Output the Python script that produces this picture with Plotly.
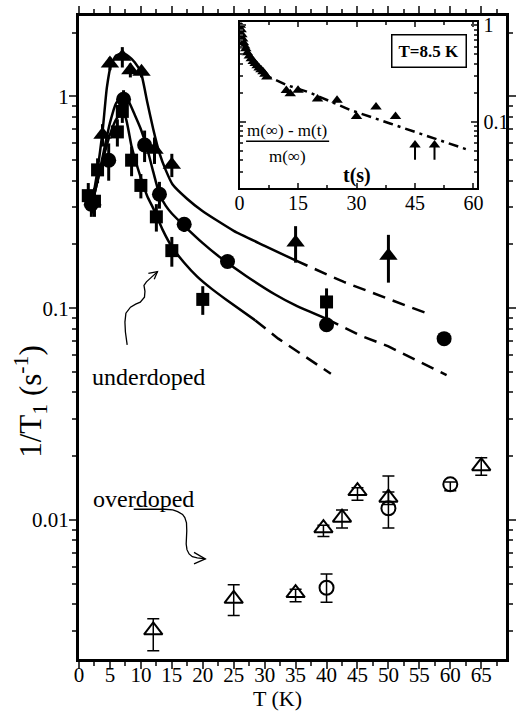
import plotly.graph_objects as go

# ---------------- data ----------------
# underdoped, filled symbols
tri_T = [2.2, 3.8, 5.0, 7.0, 8.3, 10.1, 12.2, 15.0, 35.0, 50.0]
tri_v = [0.32, 0.66, 1.43, 1.54, 1.33, 1.31, 0.56, 0.476, 0.204, 0.177]
tri_e = [0.04, 0.08, 0.10, 0.17, 0.10, 0.08, 0.08, 0.06, 0.040, 0.045]

cir_T = [2.0, 4.8, 7.2, 10.6, 13.0, 17.0, 24.0, 40.0, 59.0]
cir_v = [0.31, 0.50, 0.97, 0.59, 0.345, 0.249, 0.166, 0.0835, 0.0718]
cir_e = [0.04, 0.10, 0.10, 0.10, 0.05, 0.02, 0.01, 0.005, 0.004]

sq_T = [1.5, 2.5, 3.0, 6.2, 7.0, 8.5, 10.0, 12.5, 15.0, 20.0, 40.0]
sq_v = [0.34, 0.32, 0.45, 0.68, 0.85, 0.50, 0.38, 0.27, 0.187, 0.11, 0.107]
sq_e = [0.05, 0.05, 0.06, 0.10, 0.10, 0.08, 0.05, 0.04, 0.03, 0.017, 0.017]

# fit curves (solid part, dashed extension)
fitA_T = [2.0, 3.0, 3.8, 4.5, 5.2, 6.0, 7.0, 8.0, 9.0, 10.0, 11.0, 12.0, 13.0, 14.0, 15.1, 17.5, 20.0, 25.0, 30.0, 35.0]
fitA_v = [0.30, 0.45, 0.68, 1.10, 1.42, 1.56, 1.60, 1.55, 1.45, 1.30, 0.95, 0.70, 0.54, 0.45, 0.385, 0.328, 0.287, 0.232, 0.197, 0.168]
fitA_dT = [35.0, 42.8, 52.8, 56.5]
fitA_dv = [0.168, 0.133, 0.103, 0.094]

fitB_T = [2.0, 3.0, 4.0, 5.0, 6.0, 7.0, 8.0, 9.0, 10.0, 11.0, 12.0, 13.0, 14.0, 15.0, 17.0, 20.0, 23.0, 27.0, 31.7, 35.0, 40.0]
fitB_v = [0.30, 0.40, 0.55, 0.75, 0.93, 1.00, 0.95, 0.82, 0.70, 0.57, 0.44, 0.345, 0.305, 0.28, 0.245, 0.203, 0.172, 0.142, 0.116, 0.103, 0.089]
fitB_dT = [40.0, 45.4, 50.0, 59.4]
fitB_dv = [0.089, 0.0744, 0.066, 0.0483]

fitC_T = [2.0, 3.0, 4.0, 5.0, 6.0, 6.8, 7.5, 8.5, 9.9, 11.0, 12.2, 13.5, 15.1, 17.0, 19.1, 21.5, 23.8, 28.5]
fitC_v = [0.30, 0.40, 0.52, 0.66, 0.78, 0.83, 0.80, 0.58, 0.42, 0.34, 0.288, 0.235, 0.193, 0.164, 0.141, 0.123, 0.1096, 0.0875]
fitC_dT = [28.5, 32.2, 40.7]
fitC_dv = [0.0875, 0.0718, 0.049]

# overdoped, open symbols
otri_T = [12, 25, 35, 39.5, 42.5, 45, 50, 65]
otri_v = [0.00301, 0.00424, 0.00451, 0.00914, 0.01025, 0.01368, 0.01273, 0.01794]
otri_ep = [0.0004, 0.0007, 0.0002, 0.0003, 0.0009, 0.0005, 0.0034, 0.0017]
otri_em = [0.0006, 0.0007, 0.0004, 0.0008, 0.0011, 0.0013, 0.0009, 0.0017]

ocir_T = [40, 50, 60]
ocir_v = [0.00478, 0.01135, 0.01472]
ocir_ep = [0.00077, 0.0022, 0.0004]
ocir_em = [0.0007, 0.0022, 0.0010]

# inset: relaxation at T = 8.5 K
ins_t = [0.2, 0.4, 0.6, 0.8, 1.0, 1.3, 1.6, 2.0, 2.5, 3.0, 3.5, 4.0, 4.5, 5.0, 5.5, 6.0, 6.5, 7.0,
         12, 13, 15, 20, 25, 30, 35, 40, 45, 50]
ins_v = [1.0, 0.9, 0.8, 0.72, 0.66, 0.61, 0.57, 0.52, 0.48, 0.45, 0.42, 0.40, 0.38, 0.36, 0.345, 0.33, 0.31, 0.29,
         0.21, 0.195, 0.212, 0.172, 0.166, 0.113, 0.142, 0.113, 0.057, 0.057]
ins_e = [0]*26 + [0.017, 0.017]
insfit_t = [0, 1, 2, 4, 7.6, 12, 17.7, 28.6, 38.6, 48.7, 58.7]
insfit_v = [1.0, 0.65, 0.52, 0.40, 0.29, 0.24, 0.202, 0.131, 0.0955, 0.0695, 0.0506]

x_ticks = list(range(0, 70, 5))
y_ticks = [0.01, 0.1, 1]
y_ticktext = ["0.01", "0.1", "1"]
ins_x_ticks = [0, 15, 30, 45, 60]
ins_y_ticks = [0.1, 1]
ins_y_ticktext = ["0.1", "1"]

# ---------------- figure ----------------
W, H = 522, 713
L, R, T, B = 79, 6, 12, 54
PW, PH = W - L - R, H - T - B
FONT = "Liberation Serif"


def pp(px, py):
    """pixel -> paper coordinates (for decorations only)"""
    return (px - L) / PW, 1 - (py - T) / PH


fig = go.Figure()

line_kw = dict(color="black", width=2.5)
dash_kw = dict(color="black", width=2.5, dash="13px,8px")
for xs, ys in [(fitA_T, fitA_v), (fitB_T, fitB_v), (fitC_T, fitC_v)]:
    fig.add_trace(go.Scatter(x=xs, y=ys, mode="lines", line=dict(shape="spline", smoothing=0.5, **line_kw),
                             showlegend=False, hoverinfo="skip"))
for xs, ys in [(fitA_dT, fitA_dv), (fitB_dT, fitB_dv), (fitC_dT, fitC_dv)]:
    fig.add_trace(go.Scatter(x=xs, y=ys, mode="lines", line=dash_kw, showlegend=False, hoverinfo="skip"))

err_f = dict(type="data", symmetric=True, thickness=3, width=0, color="black")
fig.add_trace(go.Scatter(x=sq_T, y=sq_v, mode="markers", error_y=dict(array=sq_e, **err_f),
                         marker=dict(symbol="square", size=13, color="black"), showlegend=False))
fig.add_trace(go.Scatter(x=cir_T, y=cir_v, mode="markers", error_y=dict(array=cir_e, **err_f),
                         marker=dict(symbol="circle", size=15, color="black"), showlegend=False))
fig.add_trace(go.Scatter(x=tri_T, y=tri_v, mode="markers", error_y=dict(array=tri_e, **err_f),
                         marker=dict(symbol="triangle-up", size=16, color="black"), showlegend=False))

err_o = dict(type="data", symmetric=False, thickness=1.5, width=6, color="black")
fig.add_trace(go.Scatter(x=otri_T, y=otri_v, mode="markers",
                         error_y=dict(array=otri_ep, arrayminus=otri_em, **err_o),
                         marker=dict(symbol="triangle-up-open", size=16, color="black", line=dict(width=2)),
                         showlegend=False))
fig.add_trace(go.Scatter(x=ocir_T, y=ocir_v, mode="markers",
                         error_y=dict(array=ocir_ep, arrayminus=ocir_em, **err_o),
                         marker=dict(symbol="circle-open", size=14, color="black", line=dict(width=2)),
                         showlegend=False))

# inset
fig.add_trace(go.Scatter(x=insfit_t, y=insfit_v, mode="lines", xaxis="x2", yaxis="y2",
                         line=dict(color="black", width=2.5, dash="10px,5px,3px,5px"), showlegend=False))
fig.add_trace(go.Scatter(x=ins_t, y=ins_v, mode="markers", xaxis="x2", yaxis="y2",
                         error_y=dict(type="data", array=[0]*len(ins_e), arrayminus=ins_e, symmetric=False,
                                      thickness=2, width=0, color="black"),
                         marker=dict(symbol="triangle-up", size=10, color="black"), showlegend=False))

minor_main_y = [m * 10 ** d for d in (-3, -2, -1, 0) for m in range(2, 10)]
minor_ins_y = [m * 10 ** d for d in (-2, -1) for m in range(2, 10)]

axfont = dict(family=FONT, size=21, color="black")
fig.update_layout(
    width=W, height=H, margin=dict(l=L, r=R, t=T, b=B),
    paper_bgcolor="white", plot_bgcolor="white",
    font=dict(family=FONT, color="black"),
    xaxis=dict(range=[0, 69], tickmode="array", tickvals=x_ticks, ticks="outside", ticklen=7, tickwidth=2,
               ticklabelstandoff=-12,
               minor=dict(dtick=2.5, tick0=0, ticks="outside", ticklen=4, tickwidth=2, showgrid=False),
               showline=True, linewidth=3, linecolor="black", mirror="ticks", showgrid=False, zeroline=False,
               tickfont=axfont),
    yaxis=dict(type="log", range=[-2.657, 0.380], tickmode="array", tickvals=y_ticks, ticktext=y_ticktext,
               ticks="outside", ticklen=7, tickwidth=2, ticklabelstandoff=-4,
               minor=dict(tickmode="array", tickvals=minor_main_y, ticks="outside", ticklen=4, tickwidth=2,
                          showgrid=False),
               showline=True, linewidth=3, linecolor="black", mirror="ticks", showgrid=False, zeroline=False,
               tickfont=axfont),
    xaxis2=dict(domain=[0.376, 0.933], anchor="y2", range=[0, 61], tickmode="array", tickvals=ins_x_ticks,
                ticks="inside", ticklen=5, tickwidth=1.5, ticklabelstandoff=-4,
                minor=dict(dtick=7.5, tick0=0, ticks="inside", ticklen=3, tickwidth=1.5, showgrid=False),
                showline=True, linewidth=2, linecolor="black", mirror="ticks", showgrid=False, zeroline=False,
                tickfont=dict(family=FONT, size=20, color="black")),
    yaxis2=dict(domain=[0.7326, 0.990], anchor="x2", type="log", range=[-1.69, 0.03], side="right",
                tickmode="array", tickvals=ins_y_ticks, ticktext=ins_y_ticktext,
                ticks="inside", ticklen=6, tickwidth=1.5,
                minor=dict(tickmode="array", tickvals=minor_ins_y, ticks="inside", ticklen=3, tickwidth=1.5,
                           showgrid=False),
                showline=True, linewidth=2, linecolor="black", mirror="ticks", showgrid=False, zeroline=False,
                tickfont=dict(family=FONT, size=20, color="black")),
)

anns = []


def add_text(px, py, text, size, **kw):
    x, y = pp(px, py)
    d = dict(x=x, y=y, xref="paper", yref="paper", text=text, showarrow=False,
             xanchor="center", yanchor="middle", font=dict(family=FONT, size=size, color="black"))
    d.update(kw)
    anns.append(d)


add_text(282, 712, "T (K)", 22, yanchor="bottom", borderpad=0)
add_text(29, 400, "1/T<sub>1</sub> (s<sup>-1</sup>)", 31, textangle=-90)
add_text(150, 375, "underdoped", 24)
add_text(145, 498, "overdoped", 24)
add_text(437, 47, "<b>T=8.5 K</b>", 17, bordercolor="black", borderwidth=1.5, borderpad=6, bgcolor="white")
add_text(364, 172, "<b>t(s)</b>", 20)
add_text(292, 127, "m(∞) - m(t)", 17)
add_text(292, 153, "m(∞)", 17)
fig.update_layout(annotations=anns)

shapes = []


def path_from(points):
    s = ""
    for i, (px, py) in enumerate(points):
        x, y = pp(px, py)
        s += ("M" if i == 0 else "L") + f"{x:.5f},{y:.5f} "
    return s


def add_path(points, width=1.5):
    shapes.append(dict(type="path", xref="paper", yref="paper", path=path_from(points),
                       line=dict(color="black", width=width)))


# fraction bar in inset label
add_path([(250, 138), (335, 138)], 1.5)
# underdoped wavy arrow
add_path([(128.3, 343), (126.5, 330), (126, 320), (127, 311), (131.7, 305), (137, 302), (141.7, 300),
          (146, 295), (146.5, 289), (145.5, 283), (148, 279.5), (153, 275), (159.3, 269.3)], 1.3)
add_path([(150, 271), (159.3, 269.3), (156, 277)], 1.3)
# overdoped wavy arrow (with underline)
add_path([(135, 508.3), (166.7, 508.3), (175, 509), (180, 510.7), (185, 513.5), (187.3, 516.7), (189, 522),
          (189.3, 530), (188.7, 543.3), (189.5, 549), (191.7, 553.3), (195, 556), (200, 557.3), (208.3, 558.3)], 1.3)
add_path([(196.7, 551.7), (208.3, 558.3), (196.7, 563.3)], 1.3)
fig.update_layout(shapes=shapes)

fig.write_html("out.html")
